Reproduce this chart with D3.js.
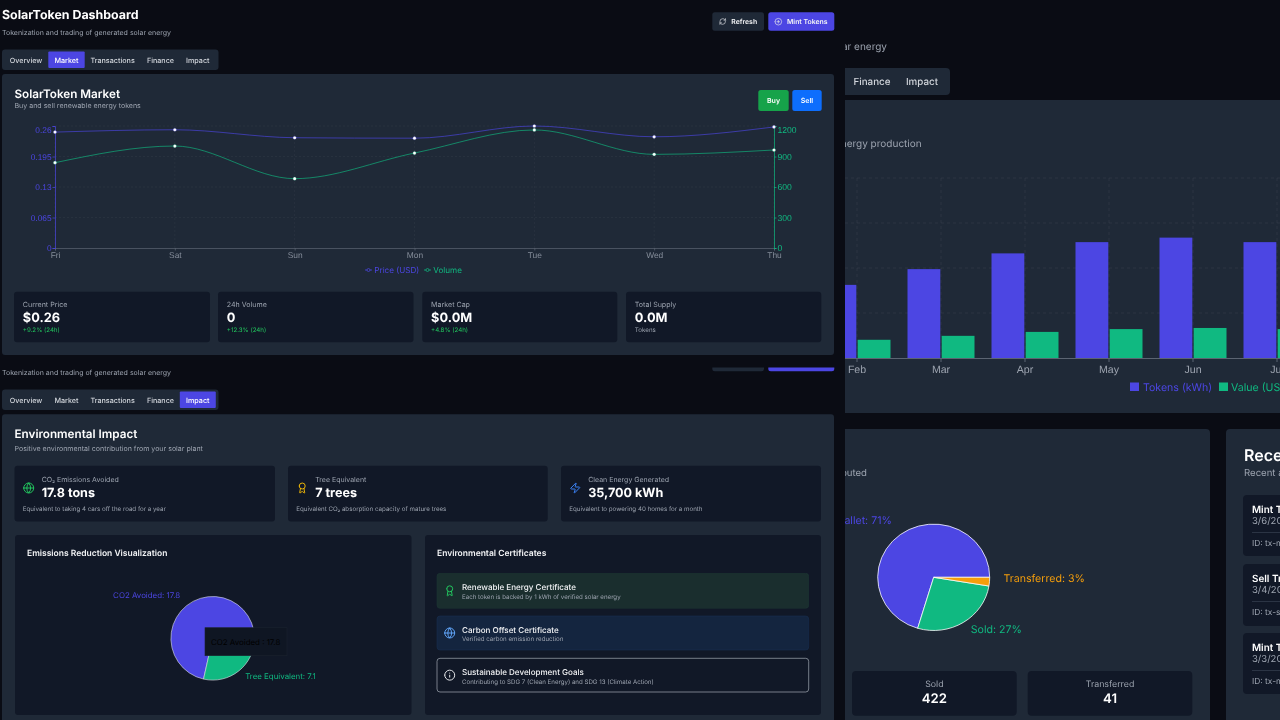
<!DOCTYPE html>
<html><head><meta charset="utf-8">
<script src="https://cdnjs.cloudflare.com/ajax/libs/d3/7.8.5/d3.min.js"></script>
<style>
html,body{margin:0;padding:0;background:#0a0c14;overflow:hidden}
svg{display:block;font-family:Inter,"Noto Sans",sans-serif;filter:blur(.35px);text-rendering:geometricPrecision}
</style></head><body><svg id="c" width="1280" height="720"></svg>
<script>
// ---------- data ----------
const marketDays=["Fri","Sat","Sun","Mon","Tue","Wed","Thu"];
const priceValues=[0.247,0.252,0.235,0.234,0.26,0.237,0.258];
const volumeValues=[839,1003,682,934,1161,921,964];
const priceTicks=[0,0.065,0.13,0.195,0.26];
const volumeTicks=[0,300,600,900,1200];
const tabLabels=["Overview","Market","Transactions","Finance","Impact"];
const statLabels=["Current Price","24h Volume","Market Cap","Total Supply"];
const statValues=["$0.26","0","$0.0M","0.0M"];
const statNotes=["+9.2% (24h)","+12.3% (24h)","+4.8% (24h)","Tokens"];
const impactLabels=["CO₂ Emissions Avoided","Tree Equivalent","Clean Energy Generated"];
const impactValues=["17.8 tons","7 trees","35,700 kWh"];
const impactNotes=["Equivalent to taking 4 cars off the road for a year","Equivalent CO₂ absorption capacity of mature trees","Equivalent to powering 40 homes for a month"];
const emissionNames=["CO2 Avoided","Tree Equivalent"];
const emissionValues=[17.8,7.1];
const certTitles=["Renewable Energy Certificate","Carbon Offset Certificate","Sustainable Development Goals"];
const certNotes=["Each token is backed by 1 kWh of verified solar energy","Verified carbon emission reduction","Contributing to SDG 7 (Clean Energy) and SDG 13 (Climate Action)"];
const months=["Feb","Mar","Apr","May","Jun","Jul"];
const tokenValues=[650,790,930,1030,1070,1030];
const usdValues=[162,197,232,257,267,257];
const monthTicks=[0,400,800,1200,1600];
const distNames=["Wallet","Sold","Transferred"];
const distValues=[1100,422,41];
const distPercent=[71,27,3];
const txTitles=["Mint Transaction","Sell Transaction","Mint Transaction"];
const txDates=["3/6/2025","3/4/2025","3/3/2025"];
const txIds=["ID: tx-mint-1","ID: tx-sell-1","ID: tx-mint-2"];

// ---------- palette ----------
const BG="#0a0c14",PANEL="#1f2937",CARD="#111827",INDIGO="#4c46e3",GREEN="#10b981",ORANGE="#f59e0b",GREY="#9ca3af",LIGHT="#d1d5db";

const svg=d3.select("#c");
const defs=svg.append("defs");
defs.append("clipPath").attr("id","rightClip").append("rect").attr("x",845).attr("y",0).attr("width",435).attr("height",720);
defs.append("clipPath").attr("id","stripClip").append("rect").attr("x",700).attr("y",367.5).attr("width",140).attr("height",6);

function box(g,x0,y0,x1,y1,fill,r,stroke,sw){
  return g.append("rect").attr("x",x0).attr("y",y0).attr("width",x1-x0).attr("height",y1-y0)
    .attr("rx",r==null?3:r).attr("fill",fill).attr("stroke",stroke||"none").attr("stroke-width",sw||0);
}
function label(g,t,x,y,size,color,weight,anchor){
  return g.append("text").attr("x",x).attr("y",y+.7).attr("dominant-baseline","central")
    .attr("font-size",size).attr("fill",color).attr("font-weight",weight||400)
    .attr("text-anchor",anchor||"start").text(t);
}
const ICONS={
  refresh:["M3 12a9 9 0 0 1 9-9 9.75 9.75 0 0 1 6.74 2.74L21 8","M21 3v5h-5","M21 12a9 9 0 0 1-9 9 9.75 9.75 0 0 1-6.74-2.74L3 16","M8 16H3v5"],
  plus:["M2 12a10 10 0 1 0 20 0a10 10 0 1 0-20 0","M8 12h8","M12 8v8"],
  globe:["M2 12a10 10 0 1 0 20 0a10 10 0 1 0-20 0","M12 2a14.5 14.5 0 0 0 0 20 14.5 14.5 0 0 0 0-20","M2 12h20"],
  award:["M6 8a6 6 0 1 0 12 0a6 6 0 1 0-12 0","m15.477 12.89 1.515 8.526a.5.5 0 0 1-.81.47l-3.58-2.687a1 1 0 0 0-1.197 0l-3.586 2.686a.5.5 0 0 1-.81-.469l1.514-8.526"],
  zap:["M4 14a1 1 0 0 1-.78-1.63l9.9-10.2a.5.5 0 0 1 .86.46l-1.92 6.02A1 1 0 0 0 13 10h7a1 1 0 0 1 .78 1.63l-9.9 10.2a.5.5 0 0 1-.86-.46l1.92-6.02A1 1 0 0 0 11 14z"],
  info:["M2 12a10 10 0 1 0 20 0a10 10 0 1 0-20 0","M12 16v-4","M12 8h.01"]
};
function icon(g,name,cx,cy,size,color){
  const s=size/24;
  const ig=g.append("g").attr("transform",`translate(${cx-size/2},${cy-size/2}) scale(${s})`)
    .attr("fill","none").attr("stroke",color).attr("stroke-width",2).attr("stroke-linecap","round").attr("stroke-linejoin","round");
  ICONS[name].forEach(d=>ig.append("path").attr("d",d));
}
function tabs(g,y0,y1,active){
  box(g,2,y0,218.5,y1,PANEL,3);
  const centers=[26,66.5,112.6,160.5,197.8],widths=[0,36.4,0,0,36];
  tabLabels.forEach((t,i)=>{
    if(i===active) box(g,centers[i]-widths[i]/2,y0+2,centers[i]+widths[i]/2,y1-2,INDIGO,1);
    label(g,t,centers[i],(y0+y1)/2-.2,7.2,i===active?"#fff":LIGHT,500,"middle");
  });
}

// ---------- background page (larger, clipped) ----------
const back=svg.append("g").attr("clip-path","url(#rightClip)");
label(back,"Tokenization and trading of generated solar energy",887,46,10,GREY,400,"end");
box(back,700,68,950,95,PANEL,4);
label(back,"Finance",872,82,9.8,LIGHT,500,"middle");
label(back,"Impact",922,82,9.8,LIGHT,500,"middle");
box(back,700,100,1340,413,PANEL,3);
label(back,"Monthly tokens minted from energy production",921.7,143,10,GREY,400,"end");

const mx=d3.scaleBand().domain(months).range([815,815+84*months.length]);
const my=d3.scaleLinear().domain([0,1600]).range([358,178]);
const mSub=d3.scaleBand().domain(["tokens","usd"]).range([-33.5,33.5]).paddingInner(0.04);
const mGrid=back.append("g").attr("stroke","#fff").attr("stroke-opacity",.07).attr("stroke-dasharray","3 3").attr("stroke-width",.8);
monthTicks.slice(1).forEach(t=>mGrid.append("line").attr("x1",815).attr("x2",1290).attr("y1",my(t)).attr("y2",my(t)));
months.forEach(m=>mGrid.append("line").attr("x1",mx(m)+mx.bandwidth()/2).attr("x2",mx(m)+mx.bandwidth()/2).attr("y1",178).attr("y2",358));
const xAxisB=back.append("g").attr("transform","translate(0,358)").call(d3.axisBottom(mx).tickSize(4).tickPadding(3));
xAxisB.selectAll("line,path").attr("stroke","#5b6472");
xAxisB.selectAll("text").attr("font-size",10.6).attr("font-family","inherit").attr("fill",GREY);
const cols=back.append("g");
cols.selectAll(".tok").data(months).join("rect").attr("fill",INDIGO)
  .attr("x",m=>mx(m)+mx.bandwidth()/2+mSub("tokens")).attr("width",mSub.bandwidth())
  .attr("y",(m,i)=>my(tokenValues[i])).attr("height",(m,i)=>358-my(tokenValues[i]));
cols.selectAll(".usd").data(months).join("rect").attr("fill",GREEN)
  .attr("x",m=>mx(m)+mx.bandwidth()/2+mSub("usd")).attr("width",mSub.bandwidth())
  .attr("y",(m,i)=>my(usdValues[i])).attr("height",(m,i)=>358-my(usdValues[i]));
box(back,1130,382.5,1139,391,INDIGO,0);
label(back,"Tokens (kWh)",1143,386.5,10.6,INDIGO);
box(back,1219,382.5,1228,391,GREEN,0);
label(back,"Value (USD)",1231,386.5,10.6,GREEN);

box(back,700,429,1210,740,PANEL,4);
label(back,"How tokens have been distributed",867,472.5,9.6,GREY,400,"end");
const dG=back.append("g").attr("transform","translate(933.7,577.3) scale(1,.95)");
const dPie=d3.pie().sort(null).startAngle(Math.PI/2).endAngle(Math.PI/2-2*Math.PI);
const dArc=d3.arc().innerRadius(0).outerRadius(56);
const dArcs=dPie(distValues);
const dColors=[INDIGO,GREEN,ORANGE];
dG.selectAll("path").data(dArcs).join("path").attr("d",dArc).attr("fill",(d,i)=>dColors[i]).attr("stroke","#fff").attr("stroke-width",.8);
const dLab=d3.arc().innerRadius(70).outerRadius(70);
dArcs.forEach((a,i)=>{
  const p=dLab.centroid(a);
  back.append("text").attr("x",933.7+p[0]).attr("y",577.3+p[1]*.95-(i===1?.6:.3)).attr("font-size",10.6).attr("fill",dColors[i])
    .attr("text-anchor",p[0]>0?"start":"end").text(`${distNames[i]}: ${distPercent[i]}%`);
});
[[852,1016.7,1],[1027.7,1192.3,2]].forEach(([a,b,i])=>{
  box(back,a,671,b,715.7,CARD,4);
  label(back,distNames[i],(a+b)/2,683.5,8.8,GREY,400,"middle");
  label(back,distValues[i],(a+b)/2,698,13.2,"#fff",600,"middle");
});
box(back,1226,429,1340,740,PANEL,4);
label(back,"Recent Transactions",1244,454.5,16,"#fff",600);
label(back,"Recent activity",1244,472.5,9.6,GREY);
[[495,556],[564,626],[633,694]].forEach(([a,b],i)=>{
  box(back,1243,a,1340,b,CARD,4);
  label(back,txTitles[i],1252,a+14,9.9,"#fff",600);
  label(back,txDates[i],1252,a+26,9.5,GREY);
  back.append("line").attr("x1",1252).attr("x2",1340).attr("y1",a+37.5).attr("y2",a+37.5).attr("stroke","#374151").attr("stroke-width",.7);
  label(back,txIds[i],1252,a+48,8.4,GREY);
});

// ---------- front page top ----------
const page=svg.append("g");
label(page,"SolarToken Dashboard",2,13.6,12.4,"#fff",700);
label(page,"Tokenization and trading of generated solar energy",2,31.6,7,GREY);
function headerBtns(g){
  box(g,712.3,12.3,764,30.7,PANEL,2.5);
  box(g,768.3,12.3,834.3,30.7,INDIGO,2.5);
}
headerBtns(page);
icon(page,"refresh",722.7,21.5,7.5,"#e5e7eb");
label(page,"Refresh",731.3,21,6.9,"#f3f4f6",600);
icon(page,"plus",778.3,21.7,8,"#e5e7eb");
label(page,"Mint Tokens",787,21,6.9,"#f3f4f6",600);
tabs(page,49.5,70,1);

box(page,2,74,834,355,PANEL,3);
label(page,"SolarToken Market",14.5,93.6,11.7,"#fff",600);
label(page,"Buy and sell renewable energy tokens",14.5,105,7.05,GREY);
box(page,758.3,90,788.7,111,"#16a34a",2.5);
label(page,"Buy",773.5,100,7,"#fff",600,"middle");
box(page,792.3,90,821.7,111,"#0d6efd",2.5);
label(page,"Sell",807,100,7,"#fff",600,"middle");

// line chart
const lx=d3.scalePoint().domain(marketDays).range([55,774]);
const ly=d3.scaleLinear().domain([0,0.26]).range([248,126]);
const ry=d3.scaleLinear().domain([0,1200]).range([248,126]);
const lGrid=page.append("g").attr("stroke","#fff").attr("stroke-opacity",.06).attr("stroke-dasharray","2 2").attr("stroke-width",.7);
priceTicks.slice(1).forEach(t=>lGrid.append("line").attr("x1",55).attr("x2",774).attr("y1",ly(t)).attr("y2",ly(t)));
marketDays.forEach(d=>lGrid.append("line").attr("x1",lx(d)).attr("x2",lx(d)).attr("y1",126).attr("y2",248));
function styleAxis(a,color,size){
  a.selectAll("line,path").attr("stroke",color).attr("stroke-width",.7);
  a.selectAll("text").attr("font-family","inherit").attr("font-size",size).attr("fill",color);
}
const axB=page.append("g").attr("transform","translate(0,248)").call(d3.axisBottom(lx).tickSize(2.5).tickPadding(2));
styleAxis(axB,"#5b6472",8.4); axB.selectAll("text").attr("fill","#858d9a");
const axL=page.append("g").attr("transform","translate(55,0)").call(d3.axisLeft(ly).tickValues(priceTicks).tickFormat(d=>d).tickSize(2.5).tickPadding(1));
styleAxis(axL,INDIGO,8.3);
const axR=page.append("g").attr("transform","translate(774,0)").call(d3.axisRight(ry).tickValues(volumeTicks).tickFormat(d=>d).tickSize(2.5).tickPadding(1));
styleAxis(axR,GREEN,8.6);
[axL,axR].forEach(a=>a.selectAll(".tick").filter((d,i)=>i===4).select("text").attr("transform","translate(0,4)"));
const lineGen=(scale)=>d3.line().x((d,i)=>lx(marketDays[i])).y(d=>scale(d)).curve(d3.curveMonotoneX);
page.append("path").attr("d",lineGen(ly)(priceValues)).attr("fill","none").attr("stroke",INDIGO).attr("stroke-width",.65);
page.append("path").attr("d",lineGen(ry)(volumeValues)).attr("fill","none").attr("stroke",GREEN).attr("stroke-width",.65);
[[priceValues,ly,INDIGO],[volumeValues,ry,GREEN]].forEach(([vals,sc,col])=>{
  page.append("g").selectAll("circle").data(vals).join("circle")
    .attr("cx",(d,i)=>lx(marketDays[i])).attr("cy",d=>sc(d)).attr("r",1.6).attr("fill","#fff").attr("stroke",col).attr("stroke-width",.25);
});
[[365,INDIGO,"Price (USD)",374.3],[424,GREEN,"Volume",433.3]].forEach(([x,c,t,tx])=>{
  page.append("line").attr("x1",x).attr("x2",x+7).attr("y1",270).attr("y2",270).attr("stroke",c).attr("stroke-width",.8);
  page.append("circle").attr("cx",x+3.5).attr("cy",270).attr("r",1.5).attr("fill",PANEL).attr("stroke",c).attr("stroke-width",.7);
  label(page,t,tx,269.6,8.1,c);
});

// stat cards
[[14,210],[218,413.5],[422.3,617.3],[626,821.3]].forEach(([a,b],i)=>{
  box(page,a,291.7,b,342.3,CARD,3);
  label(page,statLabels[i],a+8.8,304,7.1,GREY);
  label(page,statValues[i],a+8.8,317.6,12.8,"#fff",700);
  label(page,statNotes[i],a+8.8,329.6,6.2,i<3?"#22c55e":GREY);
});

// ---------- front page bottom ----------
box(page,0,356,845,720,BG,0);
const strip=page.append("g").attr("clip-path","url(#stripClip)").append("g").attr("transform","translate(0,340.5)");
headerBtns(strip);
label(page,"Tokenization and trading of generated solar energy",2,371.8,7,GREY);
tabs(page,389.5,410,4);
box(page,2,414.3,834,740,PANEL,3);
label(page,"Environmental Impact",14.5,433,11.7,"#fff",600);
label(page,"Positive environmental contribution from your solar plant",14.5,447.6,7.05,GREY);
const impactIcons=[["globe","#22c55e"],["award","#eab308"],["zap","#3b82f6"]];
[[14.5,275],[288,547.7],[561,821]].forEach(([a,b],i)=>{
  box(page,a,465.7,b,521.5,CARD,3);
  icon(page,impactIcons[i][0],a+14.2,488,12,impactIcons[i][1]);
  label(page,impactLabels[i],a+27.2,478.7,7,GREY);
  label(page,impactValues[i],a+27.2,492.6,12.6,"#fff",700);
  label(page,impactNotes[i],a+8.3,508.6,6.2,GREY);
});
box(page,15,535,411.5,715,CARD,3);
box(page,425,535,821,715,CARD,3);
label(page,"Emissions Reduction Visualization",27,553.6,8.5,"#f3f4f6",600);
label(page,"Environmental Certificates",437,553.6,8.5,"#f3f4f6",600);

const ePie=d3.pie().sort(null).startAngle(Math.PI/2).endAngle(Math.PI/2-2*Math.PI);
const eArc=d3.arc().innerRadius(0).outerRadius(41.8);
const eLab=d3.arc().innerRadius(52).outerRadius(52);
const eArcs=ePie(emissionValues),eColors=[INDIGO,GREEN];
const eG=page.append("g").attr("transform","translate(212.7,638.3)");
eG.selectAll("path").data(eArcs).join("path").attr("d",eArc).attr("fill",(d,i)=>eColors[i]).attr("stroke","#dfe3ea").attr("stroke-width",.6);
eArcs.forEach((a,i)=>{
  const p=eLab.centroid(a);
  eG.append("text").attr("x",p[0]).attr("y",p[1]).attr("font-size",7.9).attr("fill",eColors[i])
    .attr("text-anchor",p[0]>0?"start":"end").text(`${emissionNames[i]}: ${emissionValues[i]}`);
});
box(page,205,627.7,287,655.7,"#0f1623",0,"#1b2330",.6);
label(page,`${emissionNames[0]} : ${emissionValues[0]}`,211,641,7.9,"#000");

const certStyles=[["#1a2e2e","#1f3a36","award","#22c55e"],["#14253f","#1b3254","globe","#60a5fa"],[CARD,"#a4aab4","info","#e5e7eb"]];
[[573.3,608.3],[616,650],[658.3,692]].forEach(([a,b],i)=>{
  const s=certStyles[i];
  box(page,437,a,808.7,b,s[0],3,s[1],i===2?.7:.5);
  icon(page,s[2],449.7,(a+b)/2,12,s[3]);
  label(page,certTitles[i],462,a+13,8.05,"#f3f4f6",500);
  label(page,certNotes[i],462,a+23,6.15,GREY);
});
</script></body></html>
